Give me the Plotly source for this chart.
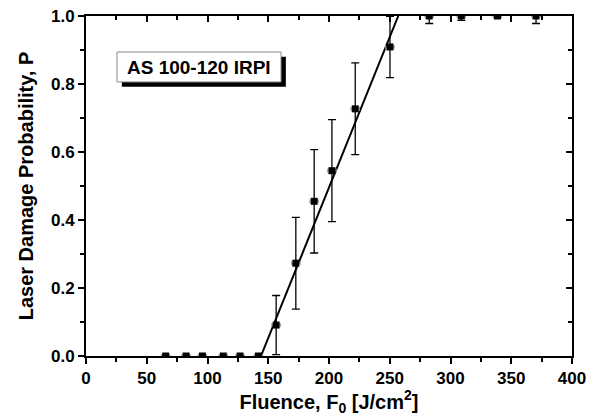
import plotly.graph_objects as go

# Data
fluence = [65.6, 82.4, 95.8, 113.0, 126.8, 141.9, 156.5, 172.7, 187.8, 202.4,
           221.6, 250.2, 282.5, 308.9, 338.6, 370.4]
prob = [0, 0, 0, 0, 0, 0, 0.091, 0.273, 0.455, 0.545, 0.727, 0.909, 1, 1, 1, 1]
prob_err = [0, 0, 0, 0, 0, 0, 0.087, 0.135, 0.152, 0.150, 0.135, 0.090,
            0.022, 0.013, 0.005, 0.022]
fluence_err = [3.5] * len(fluence)

fit_x = [144.0, 257.0]
fit_y = [0.0, 1.0]

x_ticks = [0, 50, 100, 150, 200, 250, 300, 350, 400]
y_ticks = [0.0, 0.2, 0.4, 0.6, 0.8, 1.0]
label = "AS 100-120 IRPI"

FONT = "Liberation Sans, Arial, sans-serif"

fig = go.Figure()

fig.add_trace(go.Scatter(
    x=fit_x, y=fit_y, mode="lines",
    line=dict(color="black", width=2), showlegend=False,
    hoverinfo="skip"))

fig.add_trace(go.Scatter(
    x=fluence, y=prob, mode="markers",
    marker=dict(symbol="square", size=7, color="black"),
    error_y=dict(type="data", array=prob_err, color="black",
                 thickness=1.3, width=4),
    error_x=dict(type="data", array=fluence_err, color="#999999",
                 thickness=1, width=2),
    showlegend=False))

# invisible trace for mirror axes
fig.add_trace(go.Scatter(x=[0], y=[0], xaxis="x2", yaxis="y2",
                         mode="markers", marker=dict(opacity=0),
                         showlegend=False, hoverinfo="skip"))

axis_common = dict(showgrid=False, zeroline=False, linecolor="black",
                   linewidth=2, tickcolor="black", tickwidth=1.5,
                   showline=True, automargin=False)

fig.update_layout(
    width=593, height=416,
    margin=dict(l=86, r=21, t=16, b=60),
    plot_bgcolor="white", paper_bgcolor="white",
    font=dict(family=FONT, color="black"),
    xaxis=dict(range=[0, 400], tickvals=x_ticks, ticks="outside",
               ticklen=6,
               minor=dict(dtick=25, tick0=0, ticks="outside", ticklen=4,
                          tickcolor="black", tickwidth=1.5),
               tickfont=dict(size=17, family=FONT, weight="bold"),
               title=dict(text="Fluence, F<sub>0</sub> [J/cm<sup>2</sup>]",
                          font=dict(size=20, family=FONT, weight="bold"),
                          standoff=2),
               **axis_common),
    yaxis=dict(range=[0, 1.0], tickvals=y_ticks, tickformat=".1f",
               ticks="outside", ticklen=6,
               minor=dict(dtick=0.1, tick0=0, ticks="outside", ticklen=4,
                          tickcolor="black", tickwidth=1.5),
               tickfont=dict(size=17, family=FONT, weight="bold"),
               title=dict(text="Laser Damage Probability, P",
                          font=dict(size=20, family=FONT, weight="bold"),
                          standoff=12),
               **axis_common),
    xaxis2=dict(range=[0, 400], overlaying="x", side="top",
                tickvals=x_ticks, ticks="inside", ticklen=6,
                showticklabels=False,
                minor=dict(dtick=25, tick0=0, ticks="inside", ticklen=4,
                           tickcolor="black", tickwidth=1.5),
                **axis_common),
    yaxis2=dict(range=[0, 1.0], overlaying="y", side="right",
                tickvals=y_ticks, ticks="inside", ticklen=6,
                showticklabels=False,
                minor=dict(dtick=0.1, tick0=0, ticks="inside", ticklen=4,
                           tickcolor="black", tickwidth=1.5),
                **axis_common),
)

# label box with shadow
fig.add_shape(type="rect", xref="x", yref="y",
              x0=29.5, x1=164.5, y0=0.792, y1=0.880,
              fillcolor="black", line=dict(width=0), layer="above")
fig.add_shape(type="rect", xref="x", yref="y",
              x0=25.5, x1=160.5, y0=0.806, y1=0.894,
              fillcolor="white", line=dict(color="#888888", width=1),
              layer="above")
fig.add_annotation(x=93, y=0.850, xref="x", yref="y", text=label,
                   showarrow=False,
                   font=dict(size=19, family=FONT, weight="bold"))

fig.write_html("out.html",
               config={"displayModeBar": False},
               post_script="document.body.style.margin='0';"
                           "document.body.style.padding='0';")
